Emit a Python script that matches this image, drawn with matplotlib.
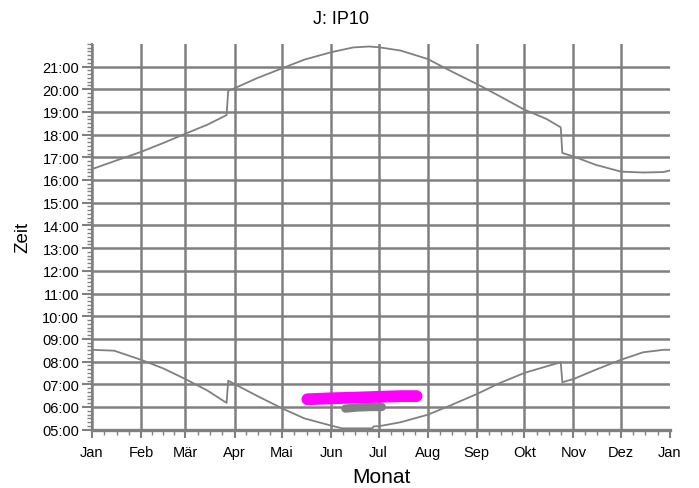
import matplotlib.pyplot as plt
from matplotlib.ticker import FixedLocator, MultipleLocator

plt.rcParams['font.family'] = ['Liberation Sans', 'DejaVu Sans']

# day of year (0 = 1. Jan) and month names for the x axis
month_starts = [0, 31, 59, 90, 120, 151, 181, 212, 243, 273, 304, 334, 365]
month_labels = ['Jan', 'Feb', 'Mär', 'Apr', 'Mai', 'Jun', 'Jul', 'Aug',
                'Sep', 'Okt', 'Nov', 'Dez', 'Jan']

hours = list(range(5, 22))
hour_labels = ['%02d:00' % h for h in hours]

# Sonnenuntergang (Stunden, Ortszeit)
sunset_days = [0, 15, 31, 45, 59, 73, 85, 86, 90, 104, 120, 134, 151, 165,
               175, 181, 195, 212, 226, 243, 257, 273, 287, 296, 297, 304,
               318, 334, 348, 361, 365]
sunset = [16.48, 16.85, 17.24, 17.63, 18.04, 18.44, 18.86, 19.93, 20.04,
          20.48, 20.92, 21.30, 21.63, 21.84, 21.88, 21.85, 21.70, 21.33,
          20.82, 20.23, 19.71, 19.10, 18.69, 18.32, 17.19, 17.04, 16.67,
          16.37, 16.33, 16.35, 16.42]

# Sonnenaufgang
sunrise_days = [0, 14, 31, 45, 59, 73, 85, 86, 90, 104, 120, 134, 151, 158,
                177, 178, 181, 195, 212, 226, 243, 257, 273, 287, 296, 297,
                304, 318, 334, 348, 361, 365]
sunrise = [8.52, 8.48, 8.08, 7.70, 7.23, 6.72, 6.18, 7.16, 7.01, 6.50, 5.94,
           5.50, 5.18, 5.06, 5.06, 5.15, 5.15, 5.33, 5.66, 6.06, 6.57, 7.04,
           7.50, 7.79, 7.97, 7.09, 7.23, 7.64, 8.08, 8.41, 8.52, 8.52]

# Beobachtungen
obs_days = [136, 150, 165, 182, 195, 205]
obs_times = [6.34, 6.38, 6.41, 6.45, 6.48, 6.48]
obs2_days = [160, 168, 176, 183]
obs2_times = [5.93, 5.98, 6.0, 6.0]

grey = '#808080'

fig = plt.figure(figsize=(6.99, 4.89), dpi=100)
ax = fig.add_axes([92 / 699, 1 - 430.7 / 489, 578 / 699, (430.7 - 44.8) / 489])

for h in hours:
    ax.axhline(h, color=grey, lw=1.8, zorder=1)
for d in month_starts[:-1]:
    ax.axvline(d, color=grey, lw=1.8, zorder=1)

ax.plot(sunset_days, sunset, color=grey, lw=1.3, zorder=2)
ax.plot(sunrise_days, sunrise, color=grey, lw=1.3, zorder=2)
ax.plot(obs_days, obs_times, color='#ff00ff', lw=8.5, solid_capstyle='round', zorder=4)
ax.plot(obs2_days, obs2_times, color=grey, lw=6, solid_capstyle='round', zorder=3)

ax.set_xlim(0, 365)
ax.set_ylim(5, 22)

ax.xaxis.set_major_locator(FixedLocator(month_starts))
ax.set_xticklabels(month_labels)
minor_x = []
for a, b in zip(month_starts[:-1], month_starts[1:]):
    minor_x += [a + (b - a) * k / 4 for k in (1, 2, 3)]
ax.xaxis.set_minor_locator(FixedLocator(minor_x))

ax.yaxis.set_major_locator(FixedLocator(hours))
ax.set_yticklabels(hour_labels)
ax.yaxis.set_minor_locator(MultipleLocator(1 / 6))

for s in ['top', 'right']:
    ax.spines[s].set_visible(False)
ax.spines['left'].set_color(grey)
ax.spines['left'].set_linewidth(1.5)
ax.spines['bottom'].set_color(grey)
ax.spines['bottom'].set_linewidth(2.4)

ax.tick_params(axis='x', which='major', color=grey, width=1.5, length=5.8,
               pad=5.0, labelsize=10.5)
ax.tick_params(axis='x', which='minor', color=grey, width=1, length=3.6)
ax.tick_params(axis='y', which='major', color=grey, width=1.5, length=7.2,
               pad=2.0, labelsize=10.5)
ax.tick_params(axis='y', which='minor', color=grey, width=1, length=3.6)

ax.set_xlabel('Monat', fontsize=15, labelpad=6)
ax.set_ylabel('Zeit', fontsize=13.5, labelpad=8)
fig.text(341 / 699, 1 - 20 / 489, 'J: IP10', fontsize=13, ha='center', va='center')

fig.savefig('out.png', dpi=100)
